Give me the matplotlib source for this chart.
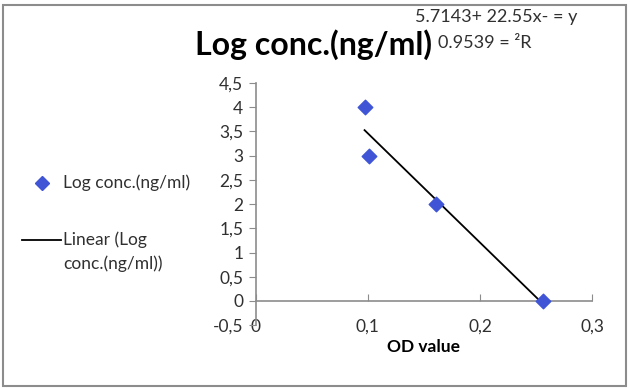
import numpy as np
import matplotlib.pyplot as plt
from matplotlib.patches import Rectangle
from matplotlib.lines import Line2D

plt.rcParams['font.family'] = ['Lato', 'DejaVu Sans']

# data
od_value = [0.097, 0.101, 0.161, 0.256]
log_conc = [4.0, 3.0, 2.0, 0.0]
slope = -22.55
intercept = 5.7143
x_ticks = [0, 0.1, 0.2, 0.3]
x_labels = ["0", "0,1", "0,2", "0,3"]
y_ticks = [-0.5, 0, 0.5, 1, 1.5, 2, 2.5, 3, 3.5, 4, 4.5]
y_labels = ["-0,5", "0", "0,5", "1", "1,5", "2", "2,5", "3", "3,5", "4", "4,5"]

marker_color = "#3F55D6"
axis_grey = "#8C8C8C"
text_color = "#303030"

fig = plt.figure(figsize=(6.3, 3.88), dpi=100)
fig.patches.append(Rectangle((0.004, 0.006), 0.99, 0.982, transform=fig.transFigure,
                             fill=False, edgecolor="#8C8C8C", linewidth=1.5))

ax = fig.add_axes([0.406, 0.162, 0.534, 0.624])

x_fit = np.array([min(od_value), max(od_value)])
ax.plot(x_fit, slope * x_fit + intercept, color="black", lw=1.3, zorder=2)
ax.scatter(od_value, log_conc, marker="D", s=55, color=marker_color, zorder=3)

ax.set_xlim(0, 0.3)
ax.set_ylim(-0.5, 4.5)
ax.set_xticks(x_ticks)
ax.set_xticklabels(x_labels)
ax.set_yticks(y_ticks)
ax.set_yticklabels(y_labels)

for s in ["top", "right"]:
    ax.spines[s].set_visible(False)
ax.spines["bottom"].set_position(("data", 0))
ax.spines["bottom"].set_color(axis_grey)
ax.spines["left"].set_color(axis_grey)
ax.spines["bottom"].set_linewidth(1.2)
ax.spines["left"].set_linewidth(1.2)
ax.tick_params(axis="x", direction="in", length=5, color=axis_grey, pad=13,
               labelsize=12.5, labelcolor=text_color)
ax.tick_params(axis="y", direction="out", length=5, color=axis_grey, pad=4,
               labelsize=12.5, labelcolor=text_color)

ax.set_xlabel("OD value", fontsize=12.5, fontweight="bold", color="black", labelpad=3)

fig.text(0.498, 0.885, "Log conc.(ng/ml)", fontsize=23, fontweight="bold",
         ha="center", va="center")
fig.text(0.659, 0.955, "5.7143+ 22.55x- = y", fontsize=13, ha="left", va="center",
         color=text_color)
fig.text(0.695, 0.89, "0.9539 = \u00b2R", fontsize=13, ha="left", va="center",
         color=text_color)

# legend on the left, drawn by hand (pixel-ish figure coords)
W, H = 630.0, 388.0
fig.add_artist(Line2D([42 / W], [1 - 183 / H], marker="D", color=marker_color,
                      linestyle="none", markersize=7.5, transform=fig.transFigure))
fig.text(63 / W, 1 - 183 / H, "Log conc.(ng/ml)", fontsize=12.5, ha="left",
         va="center", color=text_color)
fig.add_artist(Line2D([22 / W, 61 / W], [1 - 240 / H, 1 - 240 / H], color="black",
                      lw=1.3, transform=fig.transFigure))
fig.text(63 / W, 1 - 240 / H, "Linear (Log", fontsize=12.5, ha="left",
         va="center", color=text_color)
fig.text(63 / W, 1 - 264 / H, "conc.(ng/ml))", fontsize=12.5, ha="left",
         va="center", color=text_color)

fig.savefig("out.png", dpi=100)
